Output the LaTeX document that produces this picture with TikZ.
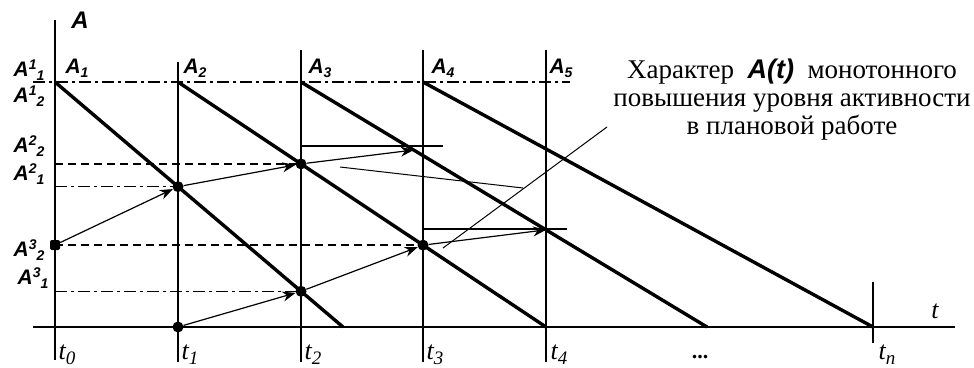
\documentclass[tikz,border=0pt]{standalone}
\usepackage{fontspec}
\setmainfont{Liberation Serif}
\setsansfont{Liberation Sans}
\usetikzlibrary{arrows.meta}
\newcommand{\myss}[2]{A\raisebox{0.36em}{\fontsize{14}{14}\selectfont #1}\raisebox{-0.18em}{\fontsize{14}{14}\selectfont #2}}
\newcommand{\mysub}[1]{A\raisebox{-0.2em}{\fontsize{14}{14}\selectfont #1}}
\newcommand{\mytl}[1]{t\raisebox{-0.18em}{\fontsize{19}{19}\selectfont #1}}
\begin{document}
\begin{tikzpicture}[x=1pt,y=-1pt,
  axis/.style={line width=1.5pt},
  diag/.style={line width=3.4pt},
  thinl/.style={line width=1.3pt},
  dashdot/.style={line width=1.3pt, dash pattern=on 12pt off 4pt on 3pt off 4pt},
  dsh/.style={line width=1.3pt, dash pattern=on 8pt off 5pt},
  arr/.style={line width=1.2pt, -{Stealth[length=13pt,width=10pt]}},
  dot/.style={circle, fill, inner sep=0pt, minimum size=11pt},
  sdot/.style={rectangle, rounded corners=2pt, fill, inner sep=0pt, minimum size=10pt},
  lab/.style={font=\sffamily\bfseries\itshape\fontsize{21}{21}\selectfont, inner sep=0pt},
  tl/.style={font=\itshape\fontsize{26}{26}\selectfont, inner sep=0pt},
]
\useasboundingbox (0,0) rectangle (974,367);
% vertical lines
\coordinate (v0t) at (55,20);  \coordinate (v0b) at (55,360);
\coordinate (v1t) at (178,62); \coordinate (v1b) at (178,362);
\coordinate (v2t) at (301,50); \coordinate (v2b) at (301,362);
\coordinate (v3t) at (423,50); \coordinate (v3b) at (423,362);
\coordinate (v4t) at (546,50); \coordinate (v4b) at (546,362);
\coordinate (vnt) at (873,282); \coordinate (vnb) at (873,343);
\coordinate (ax0) at (33,327); \coordinate (ax1) at (955,327);
\coordinate (tp0) at (33,82);  \coordinate (tp1) at (570,82);
% diagonals
\coordinate (d1s) at (55,82);  \coordinate (d1e) at (343,327);
\coordinate (d2s) at (178,82); \coordinate (d2e) at (546,327);
\coordinate (d3s) at (301,82); \coordinate (d3e) at (707,327);
\coordinate (d4s) at (423,82); \coordinate (d4e) at (873,327);
\coordinate (ha) at (300,150); \coordinate (hb) at (450,150);

\draw[axis] (v0t) -- (v0b);
\draw[axis] (v1t) -- (v1b);
\draw[axis] (v2t) -- (v2b);
\draw[axis] (v3t) -- (v3b);
\draw[axis] (v4t) -- (v4b);
\draw[axis] (vnt) -- (vnb);
\draw[axis] (ax0) -- (ax1);
\draw[dashdot] (tp0) -- (tp1);

\draw[diag] (d1s) -- (d1e);
\draw[diag] (d2s) -- (d2e);
\draw[diag] (d3s) -- (d3e);
\draw[diag] (d4s) -- (d4e);

\coordinate (p11) at (intersection of d1s--d1e and v1t--v1b);
\coordinate (p21) at (intersection of d1s--d1e and v2t--v2b);
\coordinate (p22) at (intersection of d2s--d2e and v2t--v2b);
\coordinate (p32) at (intersection of d2s--d2e and v3t--v3b);
\coordinate (p43) at (intersection of d3s--d3e and v4t--v4b);
\coordinate (q3)  at (intersection of d3s--d3e and ha--hb);
\coordinate (s0) at (55,245);
\coordinate (s1) at (178,327);

% level lines
\draw[dsh] (v0t |- p22) -- (p22);
\draw[dashdot] (v0t |- p11) -- (p11);
\draw[dsh] (s0) -- (v3t |- s0);
\draw[dashdot] (v0t |- p21) -- (p21);
\coordinate (h1a) at (301,146); \coordinate (h1b) at (443,146);
\draw[thinl] (h1a) -- (h1b);
\coordinate (h2a) at (423,229); \coordinate (h2b) at (567,229);
\draw[thinl] (h2a) -- (h2b);

% dots
\node[sdot] (n0) at (s0) {};
\node[dot] (n1) at (s1) {};
\node[dot] (n11) at (p11) {};
\node[dot] (n21) at (p21) {};
\node[dot] (n22) at (p22) {};
\node[dot] (n32) at (p32) {};

% arrows
\draw[arr] (n0) -- (n11);
\draw[arr] (n11) -- (n22);
\draw[arr] (n22) -- (q3);
\draw[arr] (n1) -- (n21);
\draw[arr] (n21) -- (n32);
\draw[arr] (n32) -- (p43);

% leader lines
\coordinate (l1) at (607,127); \coordinate (l2) at (443,248);
\coordinate (lm) at (523,188); \coordinate (l3) at (340,167);
\draw[line width=1pt] (l1) -- (l2);
\draw[line width=1pt] (lm) -- (l3);

% note
\node[align=center, font=\fontsize{27}{28}\selectfont, inner sep=0pt] (note) at (792,100)
 {Характер\ \ {\sffamily\bfseries\itshape A(t)}\ \ монотонного\\повышения уровня активности\\в плановой работе};

% labels
\node[lab, font=\sffamily\bfseries\itshape\fontsize{24}{24}\selectfont] (lA) at (80,20) {A};
\node[lab] (la1) at (77,68) {\mysub{1}};
\node[lab] (la2) at (195,68) {\mysub{2}};
\node[lab] (la3) at (320,68) {\mysub{3}};
\node[lab] (la4) at (443,68) {\mysub{4}};
\node[lab] (la5) at (561,68) {\mysub{5}};
\node[lab] (lA11) at (29,70) {\myss{1}{1}};
\node[lab] (lA12) at (29,96) {\myss{1}{2}};
\node[lab] (lA22) at (29,146) {\myss{2}{2}};
\node[lab] (lA21) at (29,174) {\myss{2}{1}};
\node[lab] (lA32) at (29,250) {\myss{3}{2}};
\node[lab] (lA31) at (33,278) {\myss{3}{1}};

\node[tl] (t0) at (67,355) {\mytl{0}};
\node[tl] (t1) at (190,355) {\mytl{1}};
\node[tl] (t2) at (313,355) {\mytl{2}};
\node[tl] (t3) at (435,355) {\mytl{3}};
\node[tl] (t4) at (559,355) {\mytl{4}};
\node[tl] (tn) at (887,355) {\mytl{n}};
\node[tl] (tt) at (935,311) {t};
\node[font=\bfseries\fontsize{22}{22}\selectfont, inner sep=0pt] (dots) at (700,357) {...};
\end{tikzpicture}
\end{document}
